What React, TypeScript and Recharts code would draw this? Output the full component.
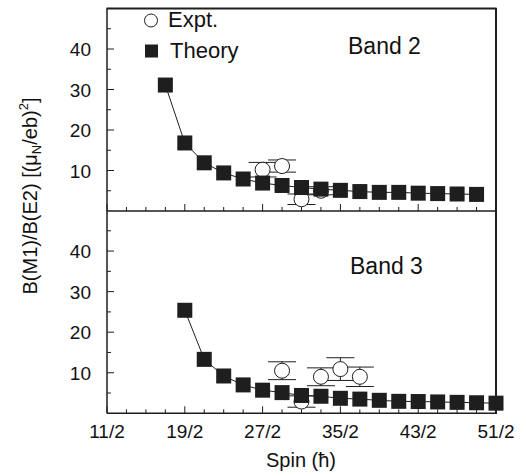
import { ComposedChart, Line, Scatter, XAxis, YAxis, ErrorBar } from 'recharts';

// spin in units of hbar (half-integers)
const band2TheorySpin = [8.5, 9.5, 10.5, 11.5, 12.5, 13.5, 14.5, 15.5, 16.5, 17.5, 18.5, 19.5, 20.5, 21.5, 22.5, 23.5, 24.5];
const band2Theory = [31.1, 16.8, 11.9, 9.4, 7.9, 6.9, 6.3, 5.8, 5.4, 5.1, 4.8, 4.6, 4.6, 4.4, 4.3, 4.2, 4.1];
const band2ExptSpin = [13.5, 14.5, 15.5, 16.5];
const band2Expt = [10.2, 11.1, 2.9, 5.0];
const band2ExptErr = [1.8, 1.5, 1.3, 1.0];

const band3TheorySpin = [9.5, 10.5, 11.5, 12.5, 13.5, 14.5, 15.5, 16.5, 17.5, 18.5, 19.5, 20.5, 21.5, 22.5, 23.5, 24.5, 25.5];
const band3Theory = [25.4, 13.3, 9.2, 7.0, 5.7, 5.1, 4.4, 4.2, 3.7, 3.5, 3.2, 2.95, 2.9, 2.8, 2.7, 2.6, 2.5];
const band3ExptSpin = [14.5, 15.5, 16.5, 17.5, 18.5];
const band3Expt = [10.5, 2.9, 9.0, 10.9, 9.0];
const band3ExptErr = [2.2, 1.4, 2.2, 2.8, 2.4];

const spinTicks = [5.5, 6.5, 7.5, 8.5, 9.5, 10.5, 11.5, 12.5, 13.5, 14.5, 15.5, 16.5, 17.5, 18.5, 19.5, 20.5, 21.5, 22.5, 23.5, 24.5, 25.5];
const spinMajor = [5.5, 9.5, 13.5, 17.5, 21.5, 25.5];
const spinLabels = ['11/2', '19/2', '27/2', '35/2', '43/2', '51/2'];
const yTicks = [5, 10, 15, 20, 25, 30, 35, 40, 45];
const yLabels = [10, 20, 30, 40];

const INK = '#1e1e1e';
const FONT = '"Liberation Sans", Arial, sans-serif';
const FRAME = { stroke: INK, strokeWidth: 1.5 };

const toRows = (xs: number[], ys: number[], errs?: number[]) =>
  xs.map((spin, i) => ({ spin, value: ys[i], err: errs ? errs[i] : 0 }));

function makeXTick(showLabel: boolean) {
  return (props: any) => {
    const { x, y, payload } = props;
    const idx = spinMajor.indexOf(payload.value);
    const major = idx >= 0;
    return (
      <g>
        <line x1={x} x2={x} y1={y} y2={y - (major ? 7 : 4)} stroke={INK} strokeWidth={1} />
        {showLabel && major && (
          <text x={x} y={y + 25} textAnchor="middle" fontSize={19} fontFamily={FONT} fill="#111">
            {spinLabels[idx]}
          </text>
        )}
      </g>
    );
  };
}

const YTick = (props: any) => {
  const { x, y, payload } = props;
  const major = yLabels.includes(payload.value);
  return (
    <g>
      <line x1={x} x2={x + (major ? 7 : 4)} y1={y} y2={y} stroke={INK} strokeWidth={1} />
      {major && (
        <text x={x - 16} y={y + 7} textAnchor="end" fontSize={19} fontFamily={FONT} fill="#111">
          {payload.value}
        </text>
      )}
    </g>
  );
};

const squareDot = (p: any) => (
  <rect key={`sq-${p.index}`} x={p.cx - 7.5} y={p.cy - 7.5} width={15} height={15} fill={INK} />
);

const circleShape = (p: any) => (
  <circle cx={p.cx} cy={p.cy} r={7.5} fill="#fff" stroke={INK} strokeWidth={1} />
);

function Panel({ top, height, bottom, theory, expt, showXLabels }: any) {
  return (
    <div style={{ position: 'absolute', left: 0, top: 0 }}>
      <ComposedChart width={526} height={height} margin={{ top, right: 30, bottom: 0, left: 0 }}>
        <XAxis
          type="number"
          dataKey="spin"
          domain={[5.5, 25.5]}
          ticks={spinTicks}
          interval={0}
          height={bottom}
          tickSize={0}
          tickMargin={0}
          tickLine={false}
          tick={makeXTick(showXLabels)}
          axisLine={FRAME}
        />
        <XAxis
          xAxisId="frameTop"
          orientation="top"
          type="number"
          domain={[5.5, 25.5]}
          height={0}
          tick={false}
          tickLine={false}
          axisLine={FRAME}
        />
        <YAxis
          type="number"
          domain={[0, 50]}
          ticks={yTicks}
          interval={0}
          width={107}
          tickSize={0}
          tickMargin={0}
          tickLine={false}
          tick={YTick}
          axisLine={FRAME}
        />
        <YAxis
          yAxisId="frameRight"
          orientation="right"
          type="number"
          domain={[0, 50]}
          width={0}
          tick={false}
          tickLine={false}
          axisLine={FRAME}
        />
        <Scatter data={expt} dataKey="value" shape={circleShape} isAnimationActive={false}>
          <ErrorBar dataKey="err" direction="y" width={14} stroke={INK} strokeWidth={1} />
        </Scatter>
        <Line
          data={theory}
          dataKey="value"
          stroke={INK}
          strokeWidth={1}
          dot={squareDot}
          activeDot={false}
          isAnimationActive={false}
        />
      </ComposedChart>
    </div>
  );
}

export default function App() {
  return (
    <div style={{ position: 'absolute', left: 0, top: 0, width: 526, height: 476, background: '#fff', fontFamily: FONT }}>
      <Panel
        top={8.5}
        height={240}
        bottom={29}
        theory={toRows(band2TheorySpin, band2Theory)}
        expt={toRows(band2ExptSpin, band2Expt, band2ExptErr)}
        showXLabels={false}
      />
      <Panel
        top={210.5}
        height={476}
        bottom={62.7}
        theory={toRows(band3TheorySpin, band3Theory)}
        expt={toRows(band3ExptSpin, band3Expt, band3ExptErr)}
        showXLabels={true}
      />
      <svg width={526} height={476} style={{ position: 'absolute', left: 0, top: 0, pointerEvents: 'none' }}>
        <line x1={106.5} x2={496.5} y1={8.5} y2={8.5} stroke={INK} strokeWidth={2} />
        <line x1={496} x2={496} y1={8} y2={414} stroke={INK} strokeWidth={2} />
        <circle cx={151} cy={20.5} r={6.5} fill="#fff" stroke={INK} strokeWidth={1} />
        <text x={168} y={27} fontSize={22} fontFamily={FONT} fill="#111">Expt.</text>
        <rect x={145} y={44.5} width={13} height={13} fill={INK} />
        <text x={170} y={58} fontSize={22} fontFamily={FONT} fill="#111">Theory</text>
        <text x={348} y={54} fontSize={23} fontFamily={FONT} fill="#111">Band 2</text>
        <text x={350} y={274} fontSize={23} fontFamily={FONT} fill="#111">Band 3</text>
        <text x={301} y={467} textAnchor="middle" fontSize={20} fontFamily={FONT} fill="#111">Spin (ħ)</text>
        <text
          transform="translate(37, 196) rotate(-90)"
          textAnchor="middle"
          fontSize={20}
          fontFamily={FONT}
          fill="#111"
        >
          B(M1)/B(E2) [(μ<tspan fontSize={13} dy={4}>N</tspan>
          <tspan dy={-4}>/eb)</tspan>
          <tspan fontSize={13} dy={-9}>2</tspan>
          <tspan dy={9}>]</tspan>
        </text>
      </svg>
    </div>
  );
}
